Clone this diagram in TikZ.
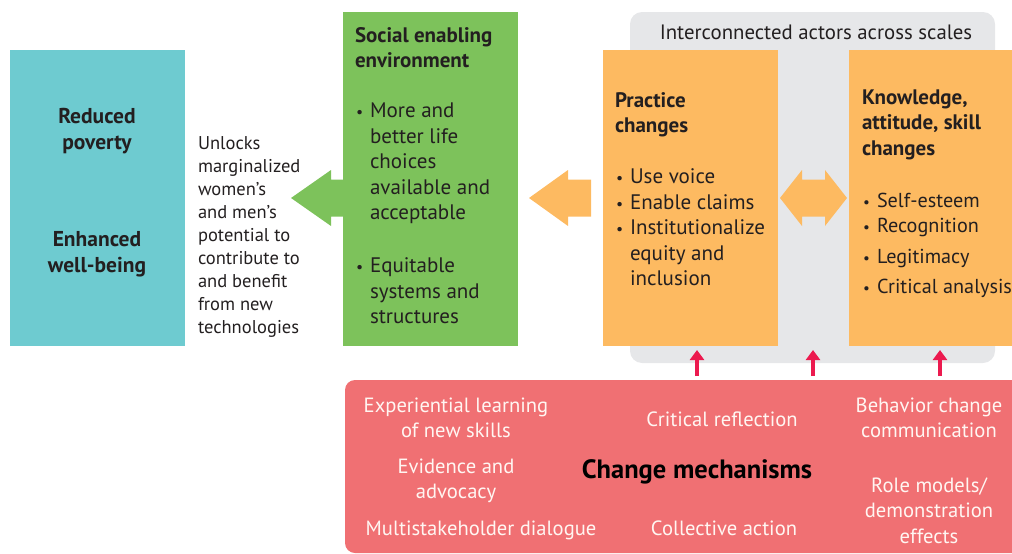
\documentclass[tikz,border=0pt]{standalone}
\usepackage{fontspec}
\setmainfont{PT Sans}
\usetikzlibrary{arrows.meta,calc}
\definecolor{cteal}{HTML}{6ECBD0}
\definecolor{cgreen}{HTML}{7DC25B}
\definecolor{corange}{HTML}{FDBA61}
\definecolor{cgray}{HTML}{E6E7E9}
\definecolor{cred}{HTML}{F07073}
\definecolor{carrow}{HTML}{EC1A4F}
\definecolor{ink}{HTML}{231F20}
\definecolor{lighttxt}{HTML}{FFF6F2}
\newcommand\bitem[1]{\par\hangindent=15pt\hangafter=1\noindent\makebox[15pt][l]{\hspace{1pt}\scalebox{0.75}{\textbullet}}#1}
\begin{document}
\begin{tikzpicture}[x=1pt,y=-1pt,
  panel/.style={inner sep=0pt, outer sep=0pt, anchor=north west, draw=none},
  txt/.style={inner sep=0pt, outer sep=0pt, text=ink},
  body/.style={txt, anchor=base west, font=\fontsize{21}{25.5}\selectfont},
  mid/.style={txt, anchor=base west, font=\fontsize{18.5}{23.1}\selectfont},
  outc/.style={txt, anchor=base, font=\fontsize{21.5}{26.5}\selectfont\bfseries},
  mech/.style={txt, anchor=base, text=lighttxt, font=\fontsize{20.6}{25.5}\selectfont},
  redarrow/.style={draw=carrow, line width=4.5pt, -{Triangle[width=14pt,length=10pt]}}
]
\useasboundingbox (0,0) rectangle (1012,554);
\clip (0,0) rectangle (1012,554);

% panels
\node[panel, fill=cgray, rounded corners=12pt, minimum width=365pt, minimum height=351pt] (actors) at (630,12) {};
\node[panel, fill=cteal, minimum width=175pt, minimum height=296pt] (outcome) at (10,50) {};
\node[panel, fill=cgreen, minimum width=175pt, minimum height=334pt] (enabling) at (343,12) {};
\node[panel, fill=corange, minimum width=175pt, minimum height=296pt] (practice) at (603,50) {};
\node[panel, fill=corange, minimum width=175pt, minimum height=296pt] (knowledge) at (849,50) {};
\node[panel, fill=cred, rounded corners=10pt, minimum width=690pt, minimum height=173pt] (mechbox) at (345,380) {};

% block arrows
\coordinate (midline) at (0,198);
\fill[cgreen] (enabling.west|-midline) ++(0,-18.5) -- ++(-12,0) -- ++(0,-9.5) -- ++(-40,28) -- ++(40,28) -- ++(0,-9.5) -- ++(12,0) -- cycle;
\fill[corange] (practice.west|-midline) ++(-12,-18.5) -- ++(-23,0) -- ++(0,-9.5) -- ++(-39,28) -- ++(39,28) -- ++(0,-9.5) -- ++(23,0) -- cycle;
\fill[corange] (practice.east|-midline) ++(2,0) -- ++(22,-28) -- ++(0,9.5) -- ++(23,0) -- ++(0,-9.5) -- ++(22,28) -- ++(-22,28) -- ++(0,-9.5) -- ++(-23,0) -- ++(0,9.5) -- cycle;

% red arrows
\coordinate (r1s) at (697,376); \coordinate (r1e) at (697,350);
\coordinate (r2s) at (813,376); \coordinate (r2e) at (813,350);
\coordinate (r3s) at (940,376); \coordinate (r3e) at (940,350);
\draw[redarrow] (r1s) -- (r1e);
\draw[redarrow] (r2s) -- (r2e);
\draw[redarrow] (r3s) -- (r3e);

% texts
\node[txt, anchor=base, font=\fontsize{20.8}{24}\selectfont] (actorslbl) at (816,39) {Interconnected actors across scales};

\node[outc] (poverty) at (97,123) {\parbox[t]{170pt}{\centering Reduced\\poverty}};
\node[outc] (wellbeing) at (97,246) {\parbox[t]{170pt}{\centering Enhanced\\well-being}};

\node[mid] (unlocks) at (198,149) {\parbox[t]{140pt}{\raggedright Unlocks\\marginalized\\women’s\\and men’s\\potential to\\contribute to\\and benefit\\from new\\technologies}};

\node[body] (enablingtxt) at (355,42) {\parbox[t]{165pt}{\raggedright\bfseries Social enabling\\environment\par\vspace{24.5pt}\mdseries
\bitem{More and\newline better life\newline choices\newline available and\newline acceptable}\par\vspace{27.5pt}
\bitem{Equitable\newline systems and\newline structures}}};

\node[body] (practicetxt) at (615,107) {\parbox[t]{165pt}{\raggedright\bfseries Practice\\changes\par\vspace{25.5pt}\mdseries
\bitem{Use voice}\bitem{Enable claims}\bitem{Institutionalize\newline equity and\newline inclusion}}};

\node[body] (knowledgetxt) at (862,104) {\parbox[t]{165pt}{\raggedright\bfseries Knowledge,\\attitude, skill\\changes\par\vspace{26.5pt}\mdseries\fontsize{20.2}{25.5}\selectfont
\bitem{Self-esteem}\bitem{Recognition}\par\vspace{5.5pt}\bitem{Legitimacy}\par\vspace{4.5pt}\bitem{Critical analysis}}};

\node[mech] (experiential) at (456,412) {\parbox[t]{220pt}{\centering Experiential learning\\of new skills}};
\node[mech] (reflection) at (722,426) {Critical reflection};
\node[mech] (behavior) at (929,412) {\parbox[t]{170pt}{\centering Behavior change\\communication}};
\node[mech] (evidence) at (456,473) {\parbox[t]{170pt}{\centering Evidence and\\advocacy}};
\node[txt, anchor=base, font=\fontsize{26.5}{30}\selectfont\bfseries, text=black] (mechlbl) at (697,478) {Change mechanisms};
\node[mech] (role) at (929,492) {\parbox[t]{170pt}{\centering Role models/\\demonstration\\effects}};
\node[mech] (dialogue) at (481,535) {Multistakeholder dialogue};
\node[mech] (collective) at (724,535) {Collective action};
\end{tikzpicture}
\end{document}
